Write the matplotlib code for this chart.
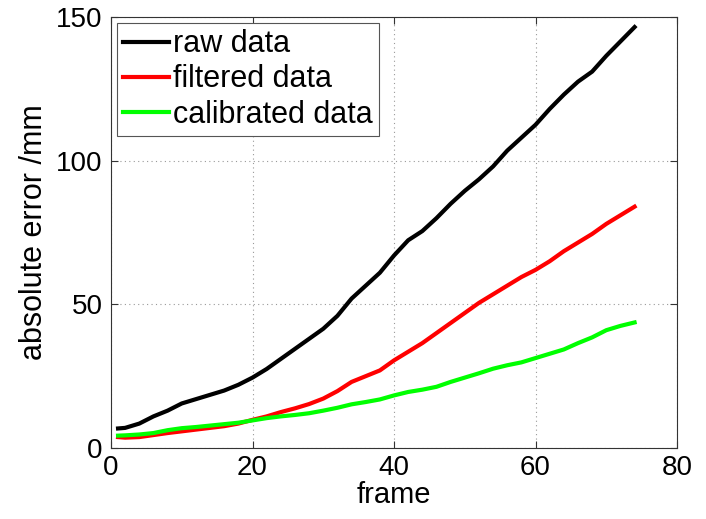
import matplotlib
matplotlib.use("Agg")
import matplotlib.pyplot as plt

frames = [1, 2, 4, 6, 8, 10, 12, 14, 16, 18, 20, 22, 24, 26, 28, 30, 32, 34, 36, 38,
          40, 42, 44, 46, 48, 50, 52, 54, 56, 58, 60, 62, 64, 66, 68, 70, 72, 74]
raw = [6.8, 7.0, 8.5, 11, 13, 15.5, 17, 18.5, 20, 22, 24.5, 27.5, 31, 34.5, 38, 41.5,
       46, 52, 56.5, 61, 67, 72.3, 75.5, 80, 85, 89.5, 93.5, 98, 103.5, 108, 112.5,
       118, 123, 127.5, 131, 136.5, 141.5, 146.5]
filtered = [3.8, 3.6, 3.8, 4.5, 5.2, 5.8, 6.4, 7.0, 7.6, 8.5, 9.8, 11, 12.5, 13.8, 15.3,
            17.2, 19.8, 23, 25, 27, 30.5, 33.5, 36.5, 40, 43.5, 47, 50.5, 53.5, 56.5,
            59.5, 62, 65, 68.5, 71.5, 74.5, 78, 81, 84]
calibrated = [4.3, 4.4, 4.7, 5.2, 6.2, 6.9, 7.3, 7.8, 8.3, 8.8, 9.6, 10.4, 11, 11.5,
              12.1, 13, 14, 15.2, 16, 16.9, 18.3, 19.5, 20.3, 21.3, 23, 24.5, 26, 27.6,
              28.8, 29.8, 31.3, 32.8, 34.3, 36.5, 38.5, 41, 42.5, 43.7]
labels = ["raw data", "filtered data", "calibrated data"]
xticks = [0, 20, 40, 60, 80]
yticks = [0, 50, 100, 150]

plt.rcParams['font.family'] = ['Liberation Sans', 'DejaVu Sans']

fig = plt.figure(figsize=(7.06, 5.19), dpi=100)
ax = fig.add_axes([0.1572, 0.1368, 0.959 - 0.1572, 0.9672 - 0.1368])

ax.plot(frames, raw, color='black', lw=3, label=labels[0])
ax.plot(frames, filtered, color='#ff0000', lw=3, label=labels[1])
ax.plot(frames, calibrated, color='#00ff00', lw=3, label=labels[2])

ax.set_xlim(0, 80)
ax.set_ylim(0, 150)
ax.set_xticks(xticks)
ax.set_yticks(yticks)
ax.grid(True, linestyle=(0, (1, 3)), color='#999999', lw=0.8)
ax.tick_params(direction='in', top=True, right=True, length=5, width=0.8,
               color='#333333', labelsize=20)
ax.tick_params(axis='x', pad=5)
ax.tick_params(axis='y', pad=6)
for s in ax.spines.values():
    s.set_color('#333333')
    s.set_linewidth(0.8)

ax.set_xlabel('frame', fontsize=21, labelpad=0)
ax.set_ylabel('absolute error /mm', fontsize=22, labelpad=5)

leg = ax.legend(loc='upper left', fontsize=22, fancybox=False, framealpha=1,
                edgecolor='#555555', handlelength=1.5, handletextpad=0.13,
                borderpad=0.2, labelspacing=0.17, borderaxespad=0.2)
leg.get_frame().set_linewidth(0.8)

fig.savefig('out.png', dpi=100)
